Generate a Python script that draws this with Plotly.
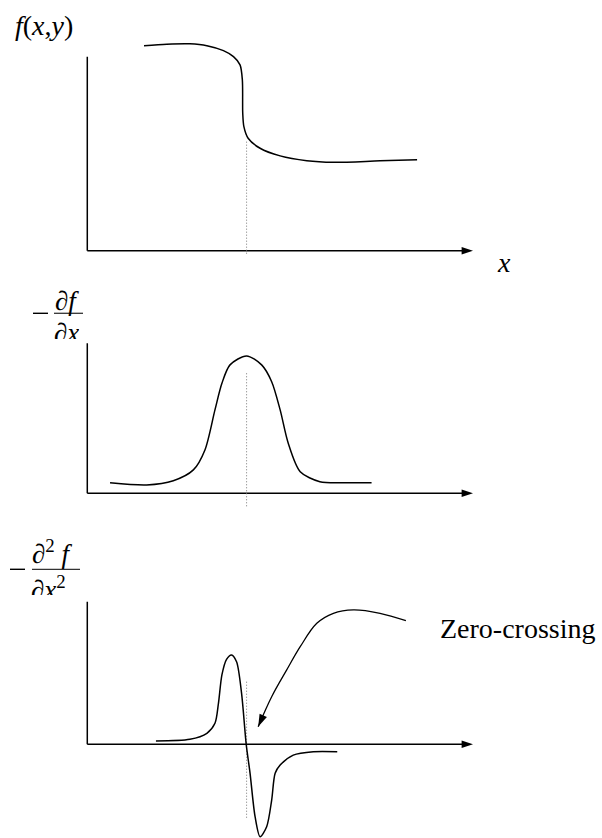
import plotly.graph_objects as go

# ---- sampled curves (x along the scan line, y = intensity) ----
# f(x,y): a step edge
f_x = [1.47, 2.06, 2.66, 3.10, 3.53, 3.79, 3.96, 4.02, 4.03, 4.06, 4.17, 4.48, 5.00, 5.69, 6.38, 7.59, 8.55]
f_y = [10.24, 10.32, 10.34, 10.25, 10.00, 9.70, 9.29, 8.54, 6.87, 6.20, 5.62, 5.12, 4.74, 4.50, 4.42, 4.49, 4.54]

# -df/dx: a bump centred on the edge
d1_x = [0.59, 1.54, 2.23, 2.75, 3.05, 3.31, 3.49, 3.70, 4.13, 4.52, 4.78, 5.00, 5.21, 5.52, 6.03, 6.73, 7.37]
d1_y = [0.53, 0.42, 0.63, 1.17, 2.17, 4.17, 5.50, 6.42, 6.87, 6.42, 5.58, 4.17, 2.50, 1.08, 0.58, 0.53, 0.53]

# -d2f/dx2: positive lobe, zero crossing at the edge, negative lobe
d2_x = [1.78, 2.66, 3.10, 3.31, 3.40, 3.49, 3.61, 3.74, 3.87, 4.00, 4.12, 4.22, 4.35, 4.48, 4.65, 4.78, 4.87, 5.00, 5.34, 5.86, 6.48]
d2_y = [0.17, 0.25, 0.55, 1.05, 2.05, 3.47, 4.25, 4.47, 4.13, 2.55, 0.00, -1.45, -3.62, -4.62, -4.12, -2.79, -1.45, -1.04, -0.54, -0.37, -0.37]

# position of the edge (dotted guide) and its extent in each panel
edge_x = 4.13
guide1_y = [5.45, -0.22]
guide2_y = [6.00, -0.74]
guide3_y = [3.13, -3.69]

# axis extents: x-axis runs 0..10, y-axis height per panel
axis_x = [0, 10]
yaxis_top = [9.70, 7.50, 7.13]

# curved pointer to the zero crossing
ptr_x = [8.26, 7.59, 6.90, 6.38, 5.95, 5.52, 5.17, 4.78, 4.43]
ptr_y = [6.18, 6.55, 6.72, 6.55, 6.05, 4.88, 3.72, 2.38, 0.88]

W, H = 602, 838
INK = "#000000"
SERIF = "Liberation Serif"

fig = go.Figure()

panels = [("x", "y"), ("x2", "y2"), ("x3", "y3")]
curves = [(f_x, f_y), (d1_x, d1_y), (d2_x, d2_y)]
guides = [guide1_y, guide2_y, guide3_y]

for (xa, ya), (cx, cy), gy, ytop in zip(panels, curves, guides, yaxis_top):
    # vertical axis
    fig.add_trace(go.Scatter(x=[0, 0], y=[0, ytop], mode="lines",
                             line=dict(color=INK, width=1.5),
                             xaxis=xa, yaxis=ya, hoverinfo="skip"))
    # horizontal axis with arrow head
    fig.add_trace(go.Scatter(x=axis_x, y=[0, 0], mode="lines+markers",
                             line=dict(color=INK, width=1.5),
                             marker=dict(symbol="arrow", size=[1, 12], angleref="previous",
                                         color=INK, opacity=[0, 1], line=dict(width=0)),
                             xaxis=xa, yaxis=ya, hoverinfo="skip"))
    # dotted guide through the edge
    fig.add_trace(go.Scatter(x=[edge_x, edge_x], y=gy, mode="lines",
                             line=dict(color="#777777", width=1, dash="1px,2px"),
                             xaxis=xa, yaxis=ya, hoverinfo="skip"))
    # the curve itself
    fig.add_trace(go.Scatter(x=cx, y=cy, mode="lines",
                             line=dict(color=INK, width=1.5, shape="spline", smoothing=0.8),
                             xaxis=xa, yaxis=ya, cliponaxis=False, hoverinfo="skip"))

# pointer arrow
fig.add_trace(go.Scatter(x=ptr_x, y=ptr_y, mode="lines+markers",
                         line=dict(color=INK, width=1.3, shape="spline", smoothing=1.0),
                         marker=dict(symbol="arrow", size=[1] * (len(ptr_x) - 1) + [13],
                                     angleref="previous", color=INK,
                                     opacity=[0] * (len(ptr_x) - 1) + [1], line=dict(width=0)),
                         xaxis="x3", yaxis="y3", cliponaxis=False, hoverinfo="skip"))


def px(xp):
    return xp / W


def py(yp):
    return 1 - yp / H


ann = []


def label(text, xp, yp, size, xanchor="left", yanchor="top", **kw):
    ann.append(dict(text=text, x=px(xp), y=py(yp), xref="paper", yref="paper",
                    xanchor=xanchor, yanchor=yanchor, showarrow=False,
                    font=dict(family=SERIF, size=size, color=INK), **kw))


# axis titles
label("<i>f</i>(<i>x</i>,<i>y</i>)", 13, 8, 28)
label("<i>x</i>", 495, 245, 28)

# -df/dx (denominator box cut short at the bottom)
label("∂<i>f</i>", 53, 284, 27)
label("∂<i>x</i>", 53, 317, 27, height=21, valign="top", borderpad=0)

# -d2f/dx2
label("∂<sup>2</sup><i> f</i>", 30, 533, 27)
label("∂<i>x</i><sup>2</sup>", 30, 570, 27, height=24, valign="top", borderpad=0)

label("Zero-crossing", 438, 628, 28, yanchor="middle")


def hline(x0, x1, yp, color="#333333", width=1.3):
    return dict(type="line", xref="paper", yref="paper", x0=px(x0), x1=px(x1),
                y0=py(yp), y1=py(yp), line=dict(color=color, width=width))


shapes = [
    hline(54, 83, 313.3),      # fraction bar
    hline(33, 48, 313.3, INK, 1.4),   # minus sign
    hline(32, 80, 569.3),      # fraction bar
    hline(10, 25, 569.3, INK, 1.4),   # minus sign
]

hidden = dict(visible=False, fixedrange=True)
xr = [-2.263, 13.344]
fig.update_layout(
    width=W, height=H,
    margin=dict(l=0, r=0, t=0, b=0),
    paper_bgcolor="white", plot_bgcolor="white",
    showlegend=False,
    annotations=ann, shapes=shapes,
    xaxis=dict(range=xr, domain=[0, 1], anchor="y", **hidden),
    xaxis2=dict(range=xr, domain=[0, 1], anchor="y2", **hidden),
    xaxis3=dict(range=xr, domain=[0, 1], anchor="y3", **hidden),
    yaxis=dict(range=[-1, 11], domain=[0.6770, 0.9634], anchor="x", **hidden),
    yaxis2=dict(range=[-1.5, 8], domain=[0.3755, 0.6023], anchor="x2", **hidden),
    yaxis3=dict(range=[-4.685, 7.5], domain=[0, 0.2908], anchor="x3", **hidden),
)

fig.write_html("out.html")
